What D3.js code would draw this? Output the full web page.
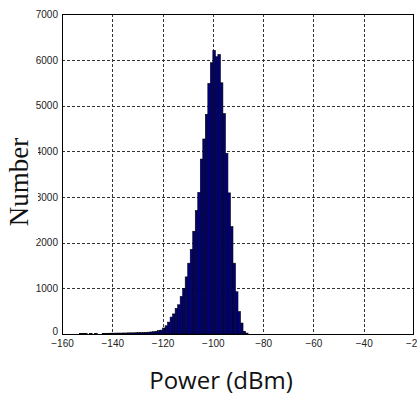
<!DOCTYPE html>
<html>
<head>
<meta charset="utf-8">
<script src="https://cdn.jsdelivr.net/npm/d3@7"></script>
<style>
  html, body { margin: 0; padding: 0; background: #fff; }
  svg { display: block; }
</style>
</head>
<body>
<svg id="chart" width="417" height="398"></svg>
<script>
// Histogram of received power: 1 dB bins, left edge of each bin
const binStart = [-153,-152,-151,-150,-149,-148,-147,-146,-145,-144,-143,-142,-141,-140,
  -139,-138,-137,-136,-135,-134,-133,-132,-131,-130,-129,-128,-127,-126,-125,-124,-123,
  -122,-121,-120,-119,-118,-117,-116,-115,-114,-113,-112,-111,-110,-109,-108,-107,-106,
  -105,-104,-103,-102,-101,-100,-99,-98,-97,-96,-95,-94,-93,-92,-91,-90,-89,-88,-87];
const counts = [10,10,10,0,8,0,8,0,0,15,15,15,18,18,
  20,20,20,22,22,25,25,25,28,30,30,32,35,40,45,50,60,
  75,85,130,180,260,370,440,560,640,820,1000,1250,1550,1850,2250,2700,3100,
  3830,4270,4810,5485,5940,6210,6070,6120,5500,4825,3955,3090,2350,1550,925,490,240,60,20];
const binWidth = 1;

const xTicks = [-160,-140,-120,-100,-80,-60,-40,-20];
const yTicks = [0,1000,2000,3000,4000,5000,6000,7000];
const xLabel = "Power (dBm)";
const yLabel = "Number";

const svg = d3.select("#chart");
const plotL = 62, plotR = 414, plotT = 14.3, plotB = 334;

const x = d3.scaleLinear().domain([-160, -20]).range([plotL, plotR]);
const y = d3.scaleLinear().domain([0, 7000]).range([plotB, plotT]);

// dashed grid
const grid = svg.append("g").attr("stroke", "#333").attr("stroke-width", 1)
  .attr("stroke-dasharray", "3,2").attr("shape-rendering", "crispEdges");
grid.selectAll("line.vx").data(xTicks.slice(1, -1)).join("line")
  .attr("x1", d => Math.round(x(d)) + 0.5).attr("x2", d => Math.round(x(d)) + 0.5)
  .attr("y1", plotT).attr("y2", plotB);
grid.selectAll("line.hy").data(yTicks.slice(1)).join("line")
  .attr("y1", d => Math.round(y(d)) + 0.5).attr("y2", d => Math.round(y(d)) + 0.5)
  .attr("x1", plotL).attr("x2", plotR);

// bars
const data = binStart.map((b, i) => ({ b, c: counts[i] }));
svg.append("g").selectAll("rect").data(data.filter(d => d.c > 0)).join("rect")
  .attr("x", d => x(d.b))
  .attr("width", d => x(d.b + binWidth) - x(d.b))
  .attr("y", d => y(d.c))
  .attr("height", d => y(0) - y(d.c))
  .attr("fill", "#000080")
  .attr("stroke", "#000")
  .attr("stroke-width", 0.6);

// frame
svg.append("rect")
  .attr("x", plotL + 0.5).attr("y", plotT + 0.5)
  .attr("width", plotR - plotL - 1).attr("height", plotB - plotT)
  .attr("fill", "none").attr("stroke", "#000").attr("stroke-width", 1)
  .attr("shape-rendering", "crispEdges");

// axes
const xAxis = d3.axisBottom(x).tickValues(xTicks).tickSize(0).tickPadding(6).tickFormat(d3.format("d"));
const yAxis = d3.axisLeft(y).tickValues(yTicks).tickSize(0).tickPadding(4).tickFormat(d3.format("d"));

const gx = svg.append("g").attr("transform", `translate(0,${plotB})`).call(xAxis);
const gy = svg.append("g").attr("transform", `translate(${plotL},0)`).call(yAxis);
[gx, gy].forEach(g => {
  g.select(".domain").remove();
  g.selectAll("text").attr("font-family", "Liberation Sans, Arial, sans-serif")
    .attr("font-size", 10).attr("fill", "#222");
});
// lift the zero label clear of the x tick labels
gy.selectAll(".tick").filter(d => d === 0).select("text").attr("y", -3);

// y label on a white backing
const yl = svg.append("g").attr("transform", "translate(28,182) rotate(-90)");
yl.append("rect").attr("x", -57).attr("y", -24).attr("width", 114).attr("height", 34).attr("fill", "#fff");
yl.append("text").attr("text-anchor", "middle")
  .attr("font-family", "Liberation Serif, Times New Roman, serif")
  .attr("font-size", 27).attr("fill", "#111").text(yLabel);

// x label
svg.append("text").attr("x", 221).attr("y", 389).attr("text-anchor", "middle")
  .attr("font-family", "Open Sans, Noto Sans, sans-serif")
  .attr("font-size", 24).attr("fill", "#111").text(xLabel);
</script>
</body>
</html>
